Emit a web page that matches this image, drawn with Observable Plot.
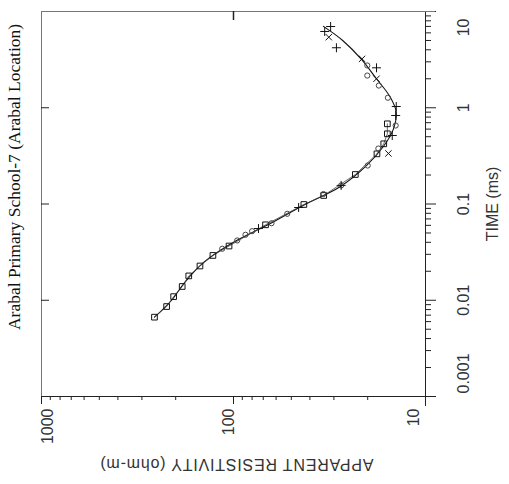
<!DOCTYPE html>
<html>
<head>
<meta charset="utf-8">
<script src="https://cdn.jsdelivr.net/npm/d3@7"></script>
<script src="https://cdn.jsdelivr.net/npm/@observablehq/plot@0.6"></script>
<style>
  html, body { margin: 0; padding: 0; background: #fff; }
</style>
</head>
<body>
<div id="chart"></div>
<script>
// ---- Data (time in ms, apparent resistivity in ohm-m) ----
const title = "Arabal Primary School-7 (Arabal Location)";
const resLabel = "APPARENT RESISTIVITY (ohm-m)";
const timeLabel = "TIME (ms)";

const resTicks = [1000, 100, 10];
const timeTicks = [0.001, 0.01, 0.1, 1, 10];

// squares series
const sqT = [0.00667, 0.0086, 0.0109, 0.0139, 0.0179, 0.0227, 0.0292, 0.0366, 0.0608, 0.0988, 0.1226, 0.2025, 0.332, 0.422, 0.536, 0.681];
const sqR = [258, 223, 205, 185, 171, 149.5, 128, 105.5, 68.1, 43.0, 33.9, 23.2, 17.9, 16.5, 15.8, 15.8];
// circles series
const ciT = [0.0343, 0.0418, 0.0479, 0.0522, 0.0631, 0.0791, 0.127, 0.156, 0.251, 0.377, 0.654, 1.27, 1.70, 2.16, 2.75];
const ciR = [114.5, 95.7, 86.6, 80, 63.4, 52.5, 34, 27.5, 20.0, 17.6, 14.3, 15.7, 17.5, 20.1, 20.1];
// plus series
const plT = [0.0556, 0.092, 0.156, 0.515, 0.831, 1.03, 2.60, 4.20, 6.98, 6.2];
const plR = [74.1, 45.8, 27.5, 14.9, 14.3, 14.2, 18.0, 29.1, 31.2, 33.5];
// times series
const tmT = [0.335, 2.0, 3.22, 5.41];
const tmR = [15.6, 18.0, 21.4, 31.9];
// fitted model curve
const lnT = [0.00667, 0.01, 0.015, 0.025, 0.04, 0.06, 0.1, 0.15, 0.25, 0.4, 0.6, 0.9, 1.3, 2.0, 3.2, 5.0, 7.0];
const lnR = [258, 210, 181, 142, 100, 67, 42, 28, 20.3, 16.5, 14.7, 14.2, 15.3, 18, 21.6, 27, 34];

const toRows = (T, R) => T.map((t, i) => ({t, r: R[i]}));
const squares = toRows(sqT, sqR);
const circles = toRows(ciT, ciR);
const pluses = toRows(plT, plR);
const times = toRows(tmT, tmR);
const model = toRows(lnT, lnR);

const resMinor = d3.scaleLog().domain([10, 1000]).ticks().filter(d => !resTicks.includes(d));
const timeMinor = d3.scaleLog().domain([0.001, 10]).ticks().filter(d => !timeTicks.includes(d));

const ink = "#222";
const txt = "#333";
const sans = "Liberation Sans, Arial, sans-serif";

const chart = Plot.plot({
  width: 509,
  height: 484,
  marginLeft: 41,
  marginRight: 84,
  marginTop: 11,
  marginBottom: 88,
  x: {type: "log", domain: [1000, 10], axis: null},
  y: {type: "log", domain: [0.001, 10], axis: null},
  style: {fontFamily: sans, background: "white", color: ink},
  marks: [
    Plot.frame({stroke: "#777", strokeWidth: 1}),
    // bottom (resistivity) axis
    Plot.axisX({anchor: "bottom", ticks: resMinor, tickSize: 4, tickFormat: () => "", label: null, stroke: ink}),
    Plot.axisX({anchor: "bottom", ticks: resTicks, tickSize: 8, tickFormat: () => "", label: null, stroke: ink}),
    // right (time) axis
    Plot.axisY({anchor: "right", ticks: timeMinor, tickSize: 5, tickFormat: () => "", label: null, stroke: ink}),
    Plot.axisY({anchor: "right", ticks: timeTicks, tickSize: 10, tickFormat: () => "", label: null, stroke: ink}),
    Plot.ruleX([10], {stroke: ink, insetBottom: -10}),
    Plot.ruleY([0.001], {stroke: ink, insetRight: -8}),
    Plot.ruleY([10], {stroke: "#777", insetRight: -10}),
    // inward mirror ticks
    Plot.ruleX([100], {stroke: ink, strokeWidth: 1.5, insetBottom: 385 - 9}),
    Plot.ruleY([1, 0.1, 0.01], {stroke: ink, insetRight: 384 - 8}),
    // tick labels, resistivity
    Plot.text(resTicks.slice(1, 2), {x: d => d, text: d => String(d), frameAnchor: "bottom", dy: 12, rotate: -90, textAnchor: "end", fontSize: 16, fill: txt}),
    Plot.text(resTicks.slice(0, 1), {x: d => d, text: d => String(d), frameAnchor: "bottom", dy: 12, dx: 11, rotate: -90, textAnchor: "end", fontSize: 16, fill: txt}),
    Plot.text(resTicks.slice(2), {x: d => d, text: d => String(d), frameAnchor: "bottom", dy: 12, dx: -7, rotate: -90, textAnchor: "end", fontSize: 16, fill: txt}),
    // tick labels, time
    Plot.text(timeTicks.slice(1, 4), {y: d => d, text: d => String(d), frameAnchor: "right", dx: 38, rotate: -90, textAnchor: "middle", fontSize: 16, fill: txt}),
    Plot.text(timeTicks.slice(0, 1), {y: d => d, text: d => String(d), frameAnchor: "right", dx: 38, dy: -3, rotate: -90, textAnchor: "start", fontSize: 16, fill: txt}),
    Plot.text(timeTicks.slice(4), {y: d => d, text: d => String(d), frameAnchor: "right", dx: 38, dy: 7, rotate: -90, textAnchor: "end", fontSize: 16, fill: txt}),
    // axis titles
    Plot.text([timeLabel], {text: d => d, frameAnchor: "right", dx: 67, rotate: -90, textAnchor: "middle", fontSize: 16, fill: txt}),
    Plot.text([resLabel], {text: d => d, frameAnchor: "bottom", dy: 62, dx: 3, rotate: 180, textAnchor: "middle", fontSize: 16, fill: txt, className: "res-label"}),
    Plot.text([title], {text: d => d, frameAnchor: "left", dx: -27, dy: -27, rotate: -90, textAnchor: "middle", fontSize: 17.5, fill: "#111", fontFamily: "Liberation Serif, Times New Roman, serif"}),
    // data
    Plot.line(model, {x: "r", y: "t", curve: "catmull-rom", stroke: "#111", strokeWidth: 1.1}),
    Plot.line(squares, {x: "r", y: "t", stroke: "#444", strokeWidth: 0.8}),
    Plot.dot(squares, {x: "r", y: "t", symbol: "square", r: 3.2, stroke: "#111", fill: "none", strokeWidth: 1}),
    Plot.dot(circles, {x: "r", y: "t", symbol: "circle", r: 2.6, stroke: "#444", fill: "none", strokeWidth: 1}),
    Plot.dot(pluses, {x: "r", y: "t", symbol: "plus", r: 3, stroke: "#111", strokeWidth: 1}),
    Plot.dot(times, {x: "r", y: "t", symbol: "times", r: 3, stroke: "#111", strokeWidth: 1})
  ]
});
d3.select(chart).selectAll(".res-label text").style("letter-spacing", "0.8px");
document.getElementById("chart").appendChild(chart);
</script>
</body>
</html>
